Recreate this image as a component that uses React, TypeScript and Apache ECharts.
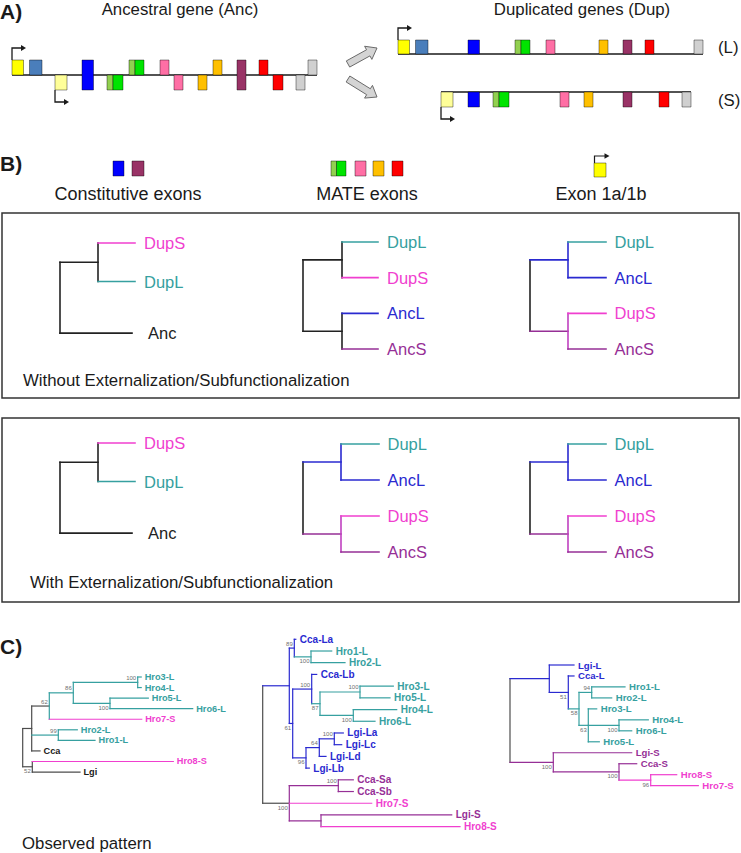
import React, { useEffect, useRef } from 'react';
import * as echarts from 'echarts';

const FONT = '"Liberation Sans", Arial, Helvetica, sans-serif';

/* ---------------- Panel A data (positions along the gene) ---------------- */
const ancExonStart = [0, 17.5, 43, 70, 95, 101, 117, 123, 148, 162, 186, 201, 225, 247, 261, 284, 296];
const ancExonEnd = [11.5, 30, 55, 81.5, 101, 111, 123, 132, 157, 171, 195, 210, 234, 256, 271, 293, 305];
const ancExonLane = [1, 1, -1, 0, -1, -1, 1, 1, 1, -1, -1, 1, 0, 1, -1, -1, 1];
const ancExonType = ['Y', 'SB', 'PY', 'B', 'LG', 'G', 'LG', 'G', 'PK', 'PK', 'OR', 'OR', 'PU', 'RD', 'RD', 'GR', 'GR'];
const promoterTypes = ['Y', 'PY'];
const spanAnc = [0, 305];
const spanDupL = [0, 305];
const spanDupS = [43, 293];
const panelATitles = ['Ancestral gene (Anc)', 'Duplicated genes (Dup)'];
const dupTags = ['(L)', '(S)'];

/* ---------------- Panel B data ---------------- */
const legendLabels = ['Constitutive exons', 'MATE exons', 'Exon 1a/1b'];
const constitutiveTypes = ['B', 'PU'];
const mateTypes = ['PK', 'OR', 'RD'];
const boxCaptions = ['Without Externalization/Subfunctionalization', 'With Externalization/Subfunctionalization'];
const treeNoExt = '((DupS:37,DupL:37)@a:38,Anc:72)@r;';
const treeNoExtRows = [0, 1, 2.34];
const treeSisterDup = '((DupL:36,DupS:36)@a:39,(AncL:36,AncS:36)@b:39)@r;';
const treeSplitLS = '((DupL:38,AncL:38)@a:38,(DupS:38,AncS:38)@b:38)@r;';

/* ---------------- Panel C data (observed trees) ---------------- */
const treeObsLeft =
  '(((((Hro3-L:3.5,Hro4-L:3.5)100@d:64.4,(Hro5-L:38.3,Hro6-L:82.7)100@e:36.7)86@c:24,Hro7-S:92.4)62@b:17.6,(Hro2-L:19,Hro1-L:36.7)99@f:26.6,Cca:8.3)@a:9,(Hro8-S:141,Lgi:47.7)52@g:9.6)@r;';
const treeObsMid =
  '(((Cca-La:1.5,(Hro1-L:20.7,Hro2-L:34)100@c:16.7)89@b:5,((Cca-Lb:5,((Hro3-L:33.3,Hro5-L:30)100@h:40,(Hro4-L:43.4,Hro6-L:21.7)100@i:33.3)87@g:8.3)100@f:19,(((Lgi-La:9,Lgi-Lc:7.4)100@l:15,Lgi-Ld:6.7)64@k:13.3,Lgi-Lb:3.3)96@j:13.3)61@e:3.4)@a:26.6,((Cca-Sa:15,Cca-Sb:15)100@n:49,Hro7-S:82.4,(Lgi-S:130.7,Hro8-S:139)@o:31.7)100@m:26.6)@r;';
const treeObsRight =
  '((Lgi-L:24.7,(Cca-L:5.7,((Hro1-L:33.3,Hro2-L:20)94@d:12.7,(Hro3-L:8.4,(Hro4-L:29.3,Hro6-L:12.7)100@f:30.7,Hro5-L:11)63@e:9.3)58@c:10.7)51@b:19)@a:39.3,(Lgi-S:78.4,(Cca-S:17.7,(Hro8-S:26,Hro7-S:47.6)96@i:31.7)100@h:65.7)100@g:43.3)@r;';
const observedCaption = 'Observed pattern';

/* ---------------- styles ---------------- */
const exonColors: Record<string, string> = {
  Y: '#ffff00', SB: '#4a7ebb', PY: '#ffff99', B: '#0000ff', LG: '#92d050', G: '#00e400',
  PK: '#ff6fa5', OR: '#ffc000', PU: '#993366', RD: '#ff0000', GR: '#d0d0d0',
};
const TEAL = '#36a0a0';
const PINK = '#f03fcf';
const BLUE = '#2a2ad0';
const PURPLE = '#962f96';
const GREY = '#4d4d4d';
const BLK = '#222222';

const styNoExt: any = { r: { h: BLK, v: BLK }, a: { h: BLK, v: BLK } };
const stySister: any = { r: { h: BLK }, a: { h: BLK }, b: { h: BLK } };
const stySplit: any = { r: { h: BLK, v: BLK }, a: { h: BLUE }, b: { h: PURPLE, v: '#c040c0' } };
const styObsLeft: any = {
  r: { h: GREY, v: GREY }, a: { h: GREY, v: GREY }, b: { h: GREY, v: TEAL, bp: 'a' }, c: { h: TEAL, bp: 'a' },
  d: { h: TEAL, bp: 'a' }, e: { h: TEAL, bp: 'b' }, f: { h: TEAL, bp: 'a' }, g: { h: GREY, v: GREY, bp: 'b' },
};
const styObsMid: any = {
  r: { h: GREY, v: GREY }, a: { h: BLUE }, b: { h: BLUE, bp: 'a' }, c: { h: TEAL, bp: 'b' }, e: { h: BLUE, bp: 'b' },
  f: { h: BLUE, bp: 'a' }, g: { h: TEAL, bp: 'b' }, h: { h: TEAL, bp: 'a' }, i: { h: TEAL, bp: 'b' },
  j: { h: BLUE, bp: 'b' }, k: { h: BLUE, bp: 'a' }, l: { h: BLUE, bp: 'a' }, m: { h: GREY, v: PURPLE, bp: 'b' },
  n: { h: PURPLE, bp: 'a' }, o: { h: PURPLE },
};
const styObsRight: any = {
  r: { h: GREY, v: GREY }, a: { h: BLUE }, b: { h: BLUE, bp: 'b' }, c: { h: TEAL, bp: 'b' }, d: { h: TEAL, bp: 'a' },
  e: { h: TEAL, bp: 'b' }, f: { h: TEAL, bp: 'b' }, g: { h: PURPLE, bp: 'b' }, h: { h: PURPLE, bp: 'b' },
  i: { h: PINK, bp: 'b' },
};

function leafLineColor(name: string): string {
  if (name === 'Anc') return BLK;
  if (name === 'DupL') return TEAL;
  if (name === 'DupS') return PINK;
  if (name === 'AncL') return BLUE;
  if (name === 'AncS') return PURPLE;
  if (name === 'Cca' || name === 'Lgi') return GREY;
  const isS = /-S/.test(name);
  if (name.startsWith('Hro')) return isS ? PINK : TEAL;
  return isS ? PURPLE : BLUE;
}
function leafTextColor(name: string): string {
  const c = leafLineColor(name);
  return c === GREY ? '#1a1a1a' : c;
}

/* ---------------- helpers ---------------- */
type TNode = { name: string; len: number; children: TNode[]; x: number; y: number };

function parseNewick(s: string): TNode {
  let i = 0;
  const node = (): TNode => {
    const n: TNode = { name: '', len: 0, children: [], x: 0, y: 0 };
    if (s[i] === '(') {
      i++;
      n.children.push(node());
      while (s[i] === ',') {
        i++;
        n.children.push(node());
      }
      i++;
    }
    let lab = '';
    while (i < s.length && !':,);'.includes(s[i])) lab += s[i++];
    n.name = lab;
    if (s[i] === ':') {
      i++;
      let num = '';
      while (i < s.length && !',);'.includes(s[i])) num += s[i++];
      n.len = parseFloat(num);
    }
    return n;
  };
  return node();
}

function treeItems(nwk: string, sty: any, rows: number[] | null, o: any) {
  const root = parseNewick(nwk);
  let leafIdx = 0;
  let maxX = 0;
  let maxRow = 0;
  const lay = (n: TNode, x: number) => {
    n.x = x;
    maxX = Math.max(maxX, x);
    if (!n.children.length) {
      n.y = rows ? rows[leafIdx] : leafIdx;
      maxRow = Math.max(maxRow, n.y);
      leafIdx++;
    } else {
      n.children.forEach((c) => lay(c, x + c.len));
      n.y = (n.children[0].y + n.children[n.children.length - 1].y) / 2;
    }
  };
  lay(root, 0);
  const segs: any[] = [];
  const texts: any[] = [];
  const draw = (n: TNode, parent: TNode | null, inh: string) => {
    if (n.children.length) {
      const parts = n.name.split('@');
      const boot = parts[0];
      const st = sty[parts[1]] || {};
      const h = st.h || inh;
      const v = st.v || h;
      if (parent) segs.push({ k: 'seg', x: parent.x, y: n.y, x2: n.x, y2: n.y, c: h, w: o.lw, cap: 'square' });
      const f = n.children[0];
      const l = n.children[n.children.length - 1];
      segs.push({ k: 'seg', x: n.x, y: f.y, x2: n.x, y2: l.y, c: v, w: o.lw, cap: 'square' });
      n.children.forEach((c) => draw(c, n, v));
      if (boot) {
        texts.push({
          k: 'text', x: n.x, y: n.y, t: boot, c: '#707070', font: `6px ${FONT}`, align: 'right',
          dx: -1.5, dy: st.bp === 'b' ? 4.5 : -4.5,
        });
      }
    } else {
      if (parent) segs.push({ k: 'seg', x: parent.x, y: n.y, x2: n.x, y2: n.y, c: leafLineColor(n.name), w: o.lw, cap: 'square' });
      const gap = (o.gapMap && o.gapMap[n.name]) || o.gap;
      texts.push({ k: 'text', x: n.x, y: n.y, t: n.name, c: leafTextColor(n.name), font: o.font, align: 'left', dx: gap, dy: 0 });
    }
  };
  draw(root, null, BLK);
  return { items: segs.concat(texts), maxX, maxRow };
}

function geneItems(mode: 'Anc' | 'L' | 'S') {
  const span = mode === 'Anc' ? spanAnc : mode === 'L' ? spanDupL : spanDupS;
  const items: any[] = [{ k: 'seg', x: span[0], y: 0, x2: span[1], y2: 0, c: '#1a1a1a', w: 1.6, cap: 'butt' }];
  const proms: any[] = [];
  for (let i = 0; i < ancExonStart.length; i++) {
    const lane = ancExonLane[i];
    if (mode === 'L' && lane < 0) continue;
    if (mode === 'S' && lane > 0) continue;
    let y0 = -1;
    let y1 = 1;
    if (mode === 'L') { y0 = 0; y1 = 1; }
    else if (mode === 'S') { y0 = -1; y1 = 0; }
    else if (lane > 0) { y0 = 0; y1 = 1; }
    else if (lane < 0) { y0 = -1; y1 = 0; }
    const type = ancExonType[i];
    items.push({ k: 'rect', x: ancExonStart[i], y: y0, x2: ancExonEnd[i], y2: y1, fill: exonColors[type] });
    if (promoterTypes.includes(type)) {
      const up = y1 > 0;
      proms.push({ k: 'prom', x: ancExonStart[i], y: up ? y1 : y0, dir: up ? -1 : 1 });
    }
  }
  return items.concat(proms);
}

function renderer(items: any[]) {
  return (params: any, api: any) => {
    const it = items[params.dataIndex];
    if (!it) return null;
    if (it.k === 'seg') {
      const p1 = api.coord([it.x, it.y]);
      const p2 = api.coord([it.x2, it.y2]);
      return {
        type: 'line',
        shape: { x1: p1[0], y1: p1[1], x2: p2[0], y2: p2[1] },
        style: { stroke: it.c, lineWidth: it.w, lineCap: it.cap || 'butt' },
      };
    }
    if (it.k === 'rect') {
      const p1 = api.coord([it.x, it.y]);
      const p2 = api.coord([it.x2, it.y2]);
      return {
        type: 'rect',
        shape: { x: Math.min(p1[0], p2[0]), y: Math.min(p1[1], p2[1]), width: Math.abs(p2[0] - p1[0]), height: Math.abs(p2[1] - p1[1]) },
        style: { fill: it.fill, stroke: 'rgba(0,0,0,0.4)', lineWidth: 1 },
      };
    }
    if (it.k === 'text') {
      const p = api.coord([it.x, it.y]);
      return {
        type: 'text',
        x: p[0] + it.dx,
        y: p[1] + it.dy,
        style: {
          text: it.t, fill: it.c, font: it.font,
          textAlign: it.align, textVerticalAlign: 'middle', align: it.align, verticalAlign: 'middle',
        },
      };
    }
    if (it.k === 'prom') {
      const p = api.coord([it.x, it.y]);
      const yy = p[1] + it.dir * 12;
      return {
        type: 'group',
        children: [
          {
            type: 'polyline',
            shape: { points: [[p[0], p[1]], [p[0], yy], [p[0] + 10, yy]] },
            style: { stroke: '#1a1a1a', lineWidth: 1.3, fill: 'none' },
          },
          {
            type: 'polygon',
            shape: { points: [[p[0] + 14, yy], [p[0] + 9, yy - 3], [p[0] + 9, yy + 3]] },
            style: { fill: '#1a1a1a' },
          },
        ],
      };
    }
    return null;
  };
}

function blockArrow(t: number[], h: number[], sw: number, hw: number, hl: number) {
  const dx = h[0] - t[0];
  const dy = h[1] - t[1];
  const L = Math.hypot(dx, dy);
  const ux = dx / L;
  const uy = dy / L;
  const nx = -uy;
  const ny = ux;
  const b = [h[0] - ux * hl, h[1] - uy * hl];
  return [
    [t[0] + nx * sw / 2, t[1] + ny * sw / 2],
    [b[0] + nx * sw / 2, b[1] + ny * sw / 2],
    [b[0] + nx * hw / 2, b[1] + ny * hw / 2],
    [h[0], h[1]],
    [b[0] - nx * hw / 2, b[1] - ny * hw / 2],
    [b[0] - nx * sw / 2, b[1] - ny * sw / 2],
    [t[0] - nx * sw / 2, t[1] - ny * sw / 2],
  ];
}

function txt(text: string, x: number, y: number, font: string, align = 'left', fill = '#1a1a1a') {
  return {
    type: 'text', x, y, silent: true,
    style: { text, font, fill, textAlign: align, textVerticalAlign: 'middle', align, verticalAlign: 'middle' },
  };
}

function exonRect(type: string, x: number, y: number, w: number, h: number) {
  return {
    type: 'rect', silent: true,
    shape: { x, y, width: w, height: h },
    style: { fill: exonColors[type], stroke: 'rgba(0,0,0,0.4)', lineWidth: 1 },
  };
}

export default function App() {
  const ref = useRef<HTMLDivElement>(null);
  useEffect(() => {
    if (!ref.current) return;
    const chart = echarts.init(ref.current, null, { renderer: 'svg' });

    const grids: any[] = [];
    const xAxes: any[] = [];
    const yAxes: any[] = [];
    const series: any[] = [];
    const addPanel = (items: any[], g: any, xr: number[], yr: number[], inverse: boolean) => {
      const idx = grids.length;
      grids.push({ left: g.left, top: g.top, width: g.width, height: g.height, containLabel: false, show: false });
      xAxes.push({ gridIndex: idx, type: 'value', min: xr[0], max: xr[1], show: false });
      yAxes.push({ gridIndex: idx, type: 'value', min: yr[0], max: yr[1], inverse, show: false });
      series.push({
        type: 'custom', coordinateSystem: 'cartesian2d', xAxisIndex: idx, yAxisIndex: idx, clip: false, silent: true,
        data: items.map((it) => [it.x, it.y]),
        renderItem: renderer(items),
      });
    };

    // Panel A genes
    addPanel(geneItems('Anc'), { left: 12, top: 60, width: 305, height: 30 }, [0, 305], [-1, 1], false);
    addPanel(geneItems('L'), { left: 398, top: 40, width: 305, height: 28 }, [0, 305], [-1, 1], false);
    addPanel(geneItems('S'), { left: 398, top: 77, width: 305, height: 30 }, [0, 305], [-1, 1], false);

    // Trees
    const boxFont = `16.5px ${FONT}`;
    const treeCfgs: any[] = [
      { nwk: treeNoExt, sty: styNoExt, rows: treeNoExtRows, left: 60, top: 243, sp: 38.5, o: { lw: 1.6, font: boxFont, gap: 9, gapMap: { Anc: 16 } } },
      { nwk: treeSisterDup, sty: stySister, rows: null, left: 303, top: 242, sp: 35.67, o: { lw: 1.6, font: boxFont, gap: 9 } },
      { nwk: treeSplitLS, sty: stySplit, rows: null, left: 530, top: 242, sp: 35.67, o: { lw: 1.6, font: boxFont, gap: 8.5 } },
      { nwk: treeNoExt, sty: styNoExt, rows: treeNoExtRows, left: 60, top: 443, sp: 38.5, o: { lw: 1.6, font: boxFont, gap: 9, gapMap: { Anc: 16 } } },
      { nwk: treeSplitLS, sty: stySplit, rows: null, left: 303, top: 444, sp: 36, o: { lw: 1.6, font: boxFont, gap: 8.5 } },
      { nwk: treeSplitLS, sty: stySplit, rows: null, left: 530, top: 444, sp: 36, o: { lw: 1.6, font: boxFont, gap: 8.5 } },
      { nwk: treeObsLeft, sty: styObsLeft, rows: null, left: 22.7, top: 677, sp: 10.56, o: { lw: 1.2, font: `bold 9.2px ${FONT}`, gap: 3.5 } },
      { nwk: treeObsMid, sty: styObsMid, rows: null, left: 262.7, top: 639.3, sp: 11.71, o: { lw: 1.2, font: `bold 10px ${FONT}`, gap: 4 } },
      { nwk: treeObsRight, sty: styObsRight, rows: null, left: 510, top: 665, sp: 10.97, o: { lw: 1.2, font: `bold 9.6px ${FONT}`, gap: 4 } },
    ];
    treeCfgs.forEach((c) => {
      const t = treeItems(c.nwk, c.sty, c.rows, c.o);
      addPanel(t.items, { left: c.left, top: c.top, width: t.maxX, height: c.sp * t.maxRow }, [0, t.maxX], [0, t.maxRow], true);
    });

    const H = `16.8px ${FONT}`;
    const LET = `bold 21px ${FONT}`;
    const graphics: any[] = [
      txt('A)', 0, 11, LET),
      txt('B)', 0, 163, LET),
      txt('C)', 0, 646, LET),
      txt(panelATitles[0], 180, 9, H, 'center'),
      txt(panelATitles[1], 582, 9, H, 'center'),
      txt(dupTags[0], 718, 47.5, H),
      txt(dupTags[1], 718, 100, H),
      {
        type: 'polygon', silent: true, shape: { points: blockArrow([348, 64], [377, 48], 7, 15, 10) },
        style: { fill: '#d4d4d4', stroke: '#6a6a6a', lineWidth: 1 },
      },
      {
        type: 'polygon', silent: true, shape: { points: blockArrow([348, 79], [377, 97], 7, 15, 10) },
        style: { fill: '#d4d4d4', stroke: '#6a6a6a', lineWidth: 1 },
      },
      // legend
      exonRect(constitutiveTypes[0], 113, 161, 11, 15),
      exonRect(constitutiveTypes[1], 132, 161, 12, 15),
      exonRect('LG', 331, 161, 5.5, 15),
      exonRect('G', 336.5, 161, 9.5, 15),
      exonRect(mateTypes[0], 355, 161, 11, 15),
      exonRect(mateTypes[1], 373, 161, 11, 15),
      exonRect(mateTypes[2], 392, 161, 11, 15),
      exonRect('Y', 594, 163, 12, 14),
      {
        type: 'polyline', silent: true, shape: { points: [[594.5, 163], [594.5, 156], [605, 156]] },
        style: { stroke: '#1a1a1a', lineWidth: 1.2, fill: 'none' },
      },
      { type: 'polygon', silent: true, shape: { points: [[609.5, 156], [604.5, 153.3], [604.5, 158.7]] }, style: { fill: '#1a1a1a' } },
      txt(legendLabels[0], 128, 194, `18px ${FONT}`, 'center'),
      txt(legendLabels[1], 367, 194, `18px ${FONT}`, 'center'),
      txt(legendLabels[2], 601, 194, `18px ${FONT}`, 'center'),
      // boxes
      { type: 'rect', silent: true, shape: { x: 2, y: 213, width: 737, height: 185 }, style: { fill: 'none', stroke: '#333', lineWidth: 1.5 } },
      { type: 'rect', silent: true, shape: { x: 2, y: 418, width: 737, height: 184 }, style: { fill: 'none', stroke: '#333', lineWidth: 1.5 } },
      txt(boxCaptions[0], 23, 380, H),
      txt(boxCaptions[1], 30, 582, H),
      txt(observedCaption, 22, 843, H),
    ];

    chart.setOption({
      animation: false,
      grid: grids,
      xAxis: xAxes,
      yAxis: yAxes,
      series,
      graphic: { elements: graphics },
    });
    return () => chart.dispose();
  }, []);
  return (
    <div
      ref={ref}
      style={{ position: 'absolute', left: 0, top: 0, width: 741, height: 853, background: '#ffffff' }}
    />
  );
}
